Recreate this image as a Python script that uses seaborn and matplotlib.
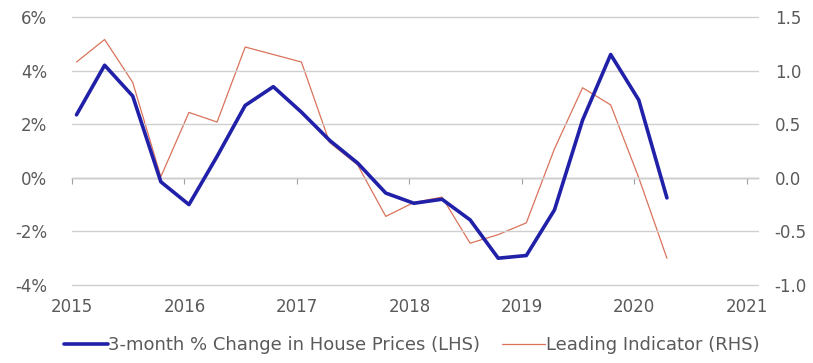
import numpy as np
import pandas as pd
import matplotlib
matplotlib.use("Agg")
import matplotlib.pyplot as plt
import seaborn as sns
from matplotlib.ticker import FuncFormatter, FixedLocator

# ---- data (quarterly) ----
quarters = [f"{y}Q{q}" for y in range(2015, 2021) for q in range(1, 5)][:22]
house_prices = [2.35, 4.2, 3.05, -0.15, -1.0, 0.8, 2.7, 3.4, 2.45, 1.4, 0.55,
                -0.57, -0.95, -0.8, -1.57, -3.0, -2.9, -1.2, 2.15, 4.6, 2.9, -0.75]
leading_ind = [1.08, 1.29, 0.89, 0.01, 0.61, 0.52, 1.22, 1.15, 1.08, 0.33, 0.12,
               -0.36, -0.23, -0.18, -0.61, -0.53, -0.42, 0.27, 0.84, 0.68, 0.0, -0.75]
year_ticks = [2015, 2016, 2017, 2018, 2019, 2020, 2021]
lhs_ticks = [-4, -2, 0, 2, 4, 6]
rhs_ticks = [-1.0, -0.5, 0.0, 0.5, 1.0, 1.5]
label_lhs = "3-month % Change in House Prices (LHS)"
label_rhs = "Leading Indicator (RHS)"

def q_to_x(q):
    y, n = q.split("Q")
    return int(y) + (int(n) - 1) * 0.25 + 0.04

df = pd.DataFrame({"x": [q_to_x(q) for q in quarters],
                   "hp": house_prices, "li": leading_ind})

sns.set_style("white")
plt.rcParams["font.family"] = ["DejaVu Sans"]

fig = plt.figure(figsize=(8.13, 3.63), dpi=100)
W, H = 813, 363
ax = fig.add_axes([72 / W, 1 - 285 / H, (758 - 72) / W, (285 - 17) / H])
ax2 = ax.twinx()

grid_c = "#cfcfcf"
txt_c = "#5a5a5a"
blue = "#2020a8"
red = "#d9735c"

ax.set_ylim(-4, 6)
ax2.set_ylim(-1.0, 1.5)
ax.set_xlim(2015, 2021.1)

ax.yaxis.set_major_locator(FixedLocator(lhs_ticks))
ax2.yaxis.set_major_locator(FixedLocator(rhs_ticks))
ax.yaxis.set_major_formatter(FuncFormatter(lambda v, p: f"{v:.0f}%"))
ax2.yaxis.set_major_formatter(FuncFormatter(lambda v, p: f"{v:.1f}"))
ax.xaxis.set_major_locator(FixedLocator(year_ticks))
ax.xaxis.set_major_formatter(FuncFormatter(lambda v, p: f"{v:.0f}"))

ax.grid(axis="y", color=grid_c, linewidth=1.0)
for gl in ax.get_ygridlines():
    gl.set_clip_on(False)
ax.set_axisbelow(True)
for a in (ax, ax2):
    for s in a.spines.values():
        s.set_visible(False)

fs = 12
ax.tick_params(axis="y", length=0, pad=18, labelsize=fs, labelcolor=txt_c)
ax2.tick_params(axis="y", length=0, pad=12, labelsize=fs, labelcolor=txt_c)
ax.tick_params(axis="x", length=0, pad=9, labelsize=fs, labelcolor=txt_c)

# zero axis line with small ticks
sec = ax.secondary_xaxis((0 - (-4)) / (6 - (-4)))
sec.xaxis.set_major_locator(FixedLocator(year_ticks))
sec.set_xticklabels([])
sec.tick_params(axis="x", length=4, width=0.8, color="#a0a0a0", direction="out")
sec.spines["bottom"].set_color("#a0a0a0")
sec.spines["bottom"].set_linewidth(1.0)
sec.spines["top"].set_visible(False)

sns.lineplot(data=df, x="x", y="li", ax=ax2, color=red, linewidth=0.9,
             label=label_rhs, legend=False)
sns.lineplot(data=df, x="x", y="hp", ax=ax, color=blue, linewidth=2.6,
             label=label_lhs, legend=False)
ax.set_zorder(ax2.get_zorder() + 1)
ax.patch.set_visible(False)

ax.set_xlabel("")
ax.set_ylabel("")
ax2.set_ylabel("")

h1, l1 = ax.get_legend_handles_labels()
h2, l2 = ax2.get_legend_handles_labels()
leg = fig.legend(h1 + h2, l1 + l2, loc="center left",
                 bbox_to_anchor=(57 / W, 1 - 345 / H), ncol=2, frameon=False,
                 fontsize=13, handlelength=2.4, handletextpad=0.05,
                 columnspacing=1.2, borderaxespad=0)
for t in leg.get_texts():
    t.set_color(txt_c)

fig.savefig("out.png", dpi=100)
